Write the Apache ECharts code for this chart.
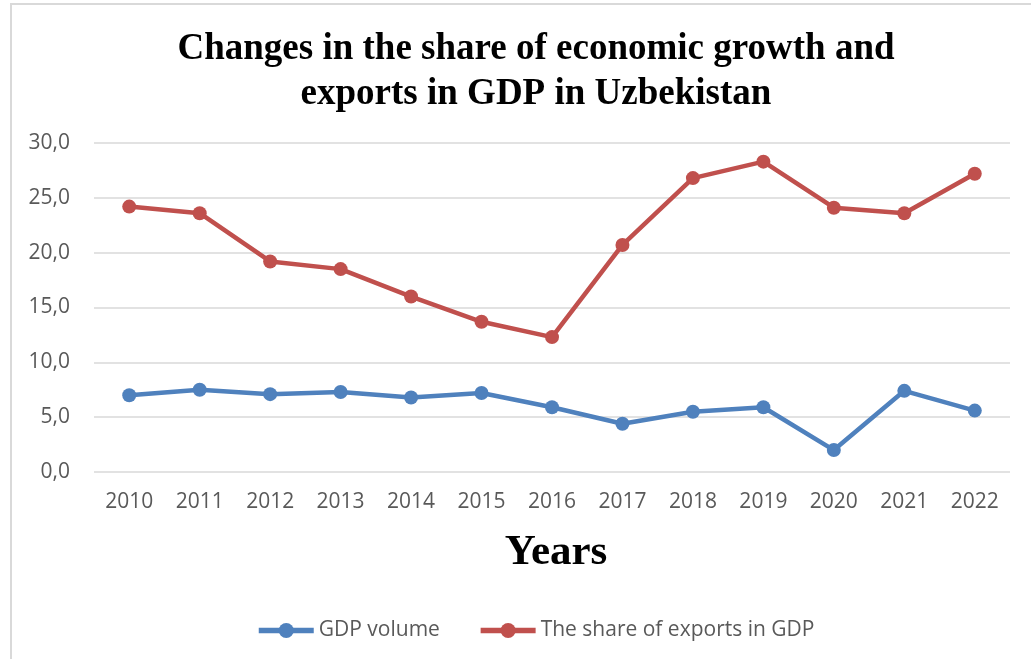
<!DOCTYPE html>
<html>
<head>
<meta charset="utf-8">
<script src="https://cdn.jsdelivr.net/npm/echarts@6/dist/echarts.min.js"></script>
<style>
  html, body { margin: 0; padding: 0; background: #fff; }
  #chart { width: 1031px; height: 659px; }
</style>
</head>
<body>
<div id="chart"></div>
<script>
// Years on the category axis
const years = ['2010','2011','2012','2013','2014','2015','2016','2017','2018','2019','2020','2021','2022'];
// GDP growth, %
const gdpVolume = [7.0, 7.5, 7.1, 7.3, 6.8, 7.2, 5.9, 4.4, 5.5, 5.9, 2.0, 7.4, 5.6];
// Exports as a share of GDP, %
const exportShare = [24.2, 23.6, 19.2, 18.5, 16.0, 13.7, 12.3, 20.7, 26.8, 28.3, 24.1, 23.6, 27.2];
// Value axis ticks
const yTicks = [0, 5, 10, 15, 20, 25, 30];

const seriesNames = ['GDP volume', 'The share of exports in GDP'];
const colors = ['#4f81bd', '#c0504d'];

const chart = echarts.init(document.getElementById('chart'), null, { renderer: 'canvas' });

const makeSeries = (name, data, color) => ({
  name: name,
  type: 'line',
  data: data,
  symbol: 'circle',
  symbolSize: 14,
  itemStyle: { color: color },
  lineStyle: { color: color, width: 4.5 },
  emphasis: { disabled: true },
  animation: false
});

chart.setOption({
  backgroundColor: '#ffffff',
  animation: false,
  graphic: [{
    type: 'rect',
    shape: { x: 11, y: 4, width: 1030, height: 670 },
    style: { fill: 'none', stroke: '#d9d9d9', lineWidth: 2 },
    silent: true
  }],
  title: [{
    text: 'Changes in the share of economic growth and\nexports in GDP in Uzbekistan',
    left: 531,
    top: 22,
    textAlign: 'center',
    textStyle: {
      fontFamily: 'Liberation Serif',
      fontWeight: 'bold',
      fontSize: 37,
      lineHeight: 45,
      color: '#000000'
    }
  }, {
    text: 'Years',
    left: 551,
    top: 526,
    textAlign: 'center',
    textStyle: {
      fontFamily: 'Liberation Serif',
      fontWeight: 'bold',
      fontSize: 43,
      color: '#000000'
    }
  }],
  legend: {
    data: seriesNames,
    bottom: 13,
    left: 251,
    itemWidth: 55,
    itemHeight: 19,
    itemGap: 38,
    lineStyle: { width: 5.5 },
    textStyle: { fontFamily: 'Open Sans', fontSize: 21, color: '#595959' }
  },
  grid: { left: 94, right: 21, top: 143, bottom: 187, containLabel: false },
  xAxis: {
    type: 'category',
    data: years,
    boundaryGap: true,
    axisLine: { show: false },
    axisTick: { show: false },
    axisLabel: { fontFamily: 'Open Sans', fontSize: 21, color: '#595959', margin: 20 }
  },
  yAxis: {
    type: 'value',
    min: yTicks[0],
    max: yTicks[yTicks.length - 1],
    interval: 5,
    axisLine: { show: false },
    axisTick: { show: false },
    splitLine: { lineStyle: { color: '#d9d9d9', width: 1.5 } },
    axisLabel: {
      fontFamily: 'Open Sans',
      fontSize: 21,
      color: '#595959',
      margin: 24,
      formatter: v => v.toFixed(1).replace('.', ',')
    }
  },
  series: [
    makeSeries(seriesNames[0], gdpVolume, colors[0]),
    makeSeries(seriesNames[1], exportShare, colors[1])
  ]
});
</script>
</body>
</html>
